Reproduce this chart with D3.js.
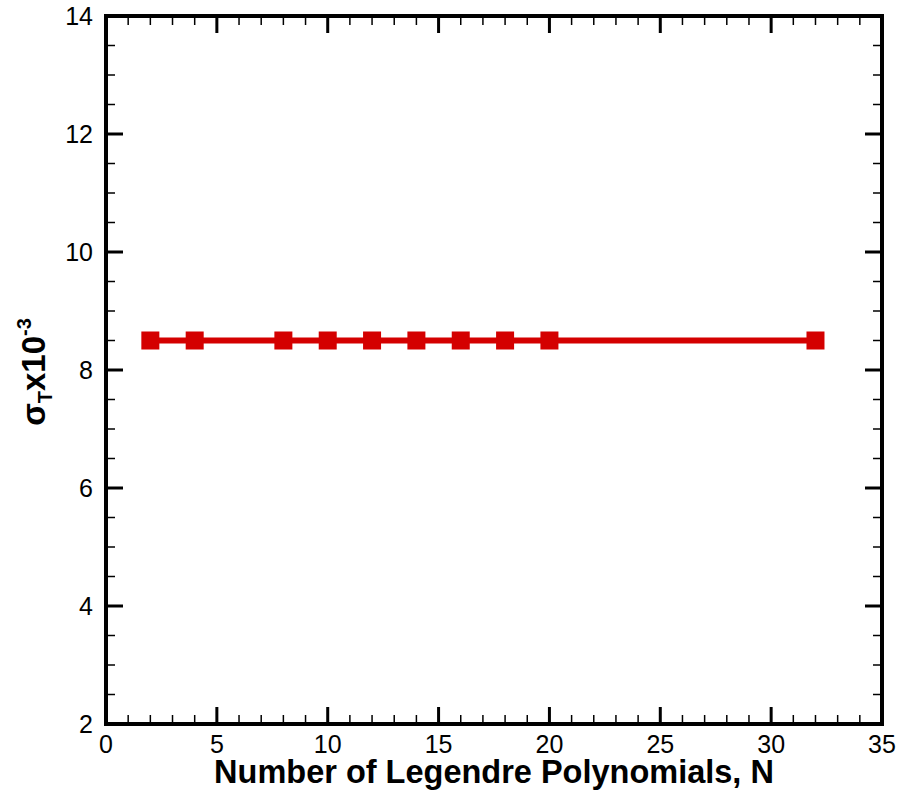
<!DOCTYPE html>
<html>
<head>
<meta charset="utf-8">
<script src="https://cdn.jsdelivr.net/npm/d3@7/dist/d3.min.js"></script>
<style>
  html, body { margin: 0; padding: 0; background: #fff; }
  svg { display: block; font-family: "Liberation Sans", Arial, Helvetica, sans-serif; }
</style>
</head>
<body>
<svg id="chart" width="902" height="795"></svg>
<script>
// Number of Legendre polynomials used and the resulting total cross section (x10^-3)
const nValues = [2, 4, 8, 10, 12, 14, 16, 18, 20, 32];
const sigmaT = [8.5, 8.5, 8.5, 8.5, 8.5, 8.5, 8.5, 8.5, 8.5, 8.5];

const xTicks = [0, 5, 10, 15, 20, 25, 30, 35];
const yTicks = [2, 4, 6, 8, 10, 12, 14];
const xMinor = d3.range(0, 35.01, 1);
const yMinor = d3.range(2, 14.01, 0.5);

const xDomain = [0, 35];
const yDomain = [2, 14];

const svg = d3.select("#chart");
const plotL = 106, plotR = 882, plotT = 16, plotB = 724;

const x = d3.scaleLinear().domain(xDomain).range([plotL, plotR]);
const y = d3.scaleLinear().domain(yDomain).range([plotB, plotT]);

const majorLen = 17, minorLen = 9;

// Tick marks on all four sides of the frame
function tickLines(g, scale, values, len, width, orient) {
  g.selectAll("line").data(values).join("line")
    .attr("stroke", "#000")
    .attr("stroke-width", width)
    .each(function (d) {
      const s = d3.select(this);
      const p = scale(d);
      if (orient === "bottom") s.attr("x1", p).attr("x2", p).attr("y1", plotB).attr("y2", plotB - len);
      if (orient === "top") s.attr("x1", p).attr("x2", p).attr("y1", plotT).attr("y2", plotT + len);
      if (orient === "left") s.attr("y1", p).attr("y2", p).attr("x1", plotL).attr("x2", plotL + len);
      if (orient === "right") s.attr("y1", p).attr("y2", p).attr("x1", plotR).attr("x2", plotR - len);
    });
}

const ticks = svg.append("g");
["bottom", "top"].forEach(o => {
  tickLines(ticks.append("g"), x, xMinor.filter(v => v % 5 !== 0), minorLen, 1.5, o);
  tickLines(ticks.append("g"), x, xTicks, majorLen, 3, o);
});
["left", "right"].forEach(o => {
  tickLines(ticks.append("g"), y, yMinor.filter(v => v % 2 !== 0), minorLen, 1.5, o);
  tickLines(ticks.append("g"), y, yTicks, majorLen, 3, o);
});

// Tick labels
svg.append("g").selectAll("text").data(xTicks).join("text")
  .attr("x", d => x(d))
  .attr("y", 753)
  .attr("text-anchor", "middle")
  .attr("font-size", 25)
  .text(d => d);

svg.append("g").selectAll("text").data(yTicks).join("text")
  .attr("x", 93)
  .attr("y", d => y(d) + 9)
  .attr("text-anchor", "end")
  .attr("font-size", 25)
  .text(d => d);

// Series line and square markers
const line = d3.line().x((d, i) => x(nValues[i])).y(d => y(d));
svg.append("path")
  .datum(sigmaT)
  .attr("d", line)
  .attr("fill", "none")
  .attr("stroke", "#d40000")
  .attr("stroke-width", 6);

const ms = 18;
svg.append("g").selectAll("rect").data(sigmaT).join("rect")
  .attr("x", (d, i) => x(nValues[i]) - ms / 2)
  .attr("y", d => y(d) - ms / 2)
  .attr("width", ms)
  .attr("height", ms)
  .attr("fill", "#d40000");

// Frame
svg.append("rect")
  .attr("x", plotL).attr("y", plotT)
  .attr("width", plotR - plotL).attr("height", plotB - plotT)
  .attr("fill", "none")
  .attr("stroke", "#000")
  .attr("stroke-width", 4);

// Axis titles
svg.append("text")
  .attr("x", (plotL + plotR) / 2)
  .attr("y", 783)
  .attr("text-anchor", "middle")
  .attr("font-size", 32.5)
  .attr("font-weight", "bold")
  .text("Number of Legendre Polynomials, N");

const yl = svg.append("text")
  .attr("transform", "translate(45,372) rotate(-90)")
  .attr("text-anchor", "middle")
  .attr("font-size", 33)
  .attr("font-weight", "bold");
yl.append("tspan").text("σ");
yl.append("tspan").attr("font-size", 20).attr("dy", 7).text("T");
yl.append("tspan").attr("dy", -7).text("x10");
yl.append("tspan").attr("font-size", 20).attr("dy", -14).text("-3");
</script>
</body>
</html>
